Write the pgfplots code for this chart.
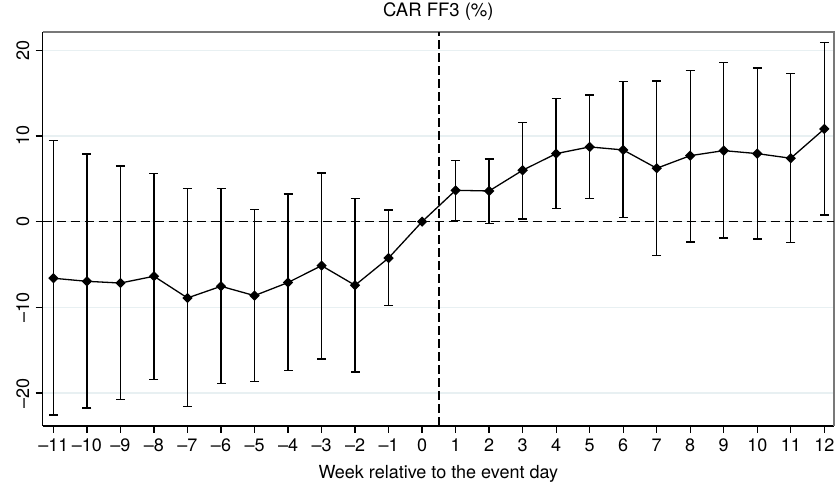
\documentclass[border=0pt]{standalone}
\usepackage{pgfplots}
\usepackage{pgfplotstable}
\pgfplotsset{compat=1.18}
\usepackage{fontspec}
\setmainfont{TeX Gyre Heros}
\definecolor{gridc}{RGB}{232,240,242}
\definecolor{framec}{RGB}{120,120,120}

\pgfplotstableread{
x y ep em
-11 -6.60 16.05 15.95
-10 -6.96 14.86 14.78
-9 -7.16 13.66 13.56
-8 -6.37 12.02 12.06
-7 -8.90 12.75 12.68
-6 -7.54 11.39 11.36
-5 -8.63 10.03 10.04
-4 -7.10 10.33 10.28
-3 -5.13 10.81 10.89
-2 -7.42 10.10 10.12
-1 -4.24 5.61 5.56
1 3.66 3.46 3.50
2 3.58 3.74 3.77
3 6.00 5.56 5.69
4 7.94 6.42 6.42
5 8.72 6.07 6.04
6 8.37 8.01 7.90
7 6.23 10.19 10.15
8 7.70 9.97 10.07
9 8.29 10.27 10.19
10 7.94 10.00 9.96
11 7.40 9.92 9.85
12 10.82 10.07 10.04
}\errtab

\pgfplotstableread{
x y
-11 -6.60
-10 -6.96
-9 -7.16
-8 -6.37
-7 -8.90
-6 -7.54
-5 -8.63
-4 -7.10
-3 -5.13
-2 -7.42
-1 -4.24
0 0
1 3.66
2 3.58
3 6.00
4 7.94
5 8.72
6 8.37
7 6.23
8 7.70
9 8.29
10 7.94
11 7.40
12 10.82
}\cartab

\begin{document}
\fontsize{18}{21}\selectfont
\begin{tikzpicture}
\useasboundingbox (-42.7pt,-61pt) rectangle (792.3pt,426pt);
\begin{axis}[
  at={(0,0)}, anchor=south west,
  scale only axis, width=791.3pt, height=394pt,
  xmin=-11.32, xmax=12.29, ymin=-23.84, ymax=22.13,
  axis x line*=bottom, axis y line*=left,
  axis line style={black, line width=1.3pt},
  clip=false,
  tick align=outside,
  major tick length=7pt,
  tick style={black, line width=1.3pt},
  xtick={-11,-10,-9,-8,-7,-6,-5,-4,-3,-2,-1,0,1,2,3,4,5,6,7,8,9,10,11,12},
  xticklabels={–11,–10,–9,–8,–7,–6,–5,–4,–3,–2,–1,0,1,2,3,4,5,6,7,8,9,10,11,12},
  ytick={-20,-10,0,10,20},
  yticklabels={–20,–10,0,10,20},
  yticklabel style={rotate=90, anchor=south, font=\fontsize{18}{21}\selectfont},
  xticklabel style={font=\fontsize{18}{21}\selectfont},
  ymajorgrids,
  grid style={gridc, line width=1.2pt},
  title={CAR FF3 (\%)},
  title style={at={(0.5,1)}, anchor=base, yshift=9.5pt, font=\fontsize{18.5}{21}\selectfont},
  xlabel={Week relative to the event day},
  xlabel style={at={(0.5,0)}, anchor=base, yshift=-52pt, font=\fontsize{18}{21}\selectfont},
]
\draw[framec, line width=1.1pt] (rel axis cs:0,1) -- (rel axis cs:1,1) -- (rel axis cs:1,0);
\addplot[black, line width=1.4pt, dash pattern=on 9pt off 5pt, forget plot] coordinates {(-11.32,0) (12.29,0)};
\addplot[black, line width=1.4pt, dash pattern=on 9pt off 4pt, forget plot] coordinates {(0.5,-23.84) (0.5,22.13)};
\addplot[black, line width=1.4pt, draw=none, mark=none,
  error bars/.cd, y dir=both, y explicit,
  error bar style={black, line width=1.4pt},
  error mark options={black, line width=1.4pt, mark size=4.5pt, rotate=90}]
  table[x=x, y=y, y error plus=ep, y error minus=em] {\errtab};
\addplot[black, line width=1.3pt, mark=square*, mark size=3pt,
  mark options={rotate=45, fill=black, solid}]
  table[x=x, y=y] {\cartab};
\end{axis}
\end{tikzpicture}
\end{document}
